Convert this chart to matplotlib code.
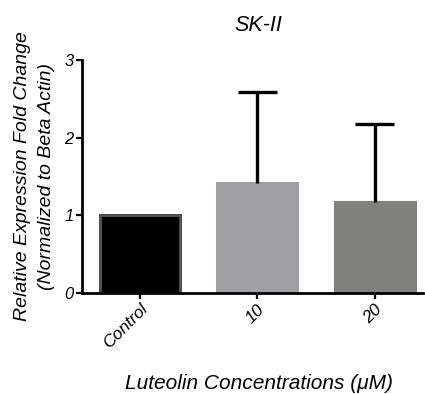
import numpy as np
import matplotlib.pyplot as plt

plt.rcParams['font.family'] = ['Liberation Sans', 'DejaVu Sans']

# data
groups = ["Control", "10", "20"]
means = [1.0, 1.42, 1.17]
err_up = [0.0, 1.17, 1.00]
colors = ["#000000", "#a0a0a3", "#80807f"]
edges = ["#505050", "#a0a0a3", "#80807f"]

fig = plt.figure(figsize=(4.25, 3.94), dpi=100)
ax = fig.add_axes([0.193, 0.256, 0.802, 0.592])

x = np.arange(len(groups))
ax.bar(x, means, width=0.68, color=colors, edgecolor=edges, linewidth=2.2, zorder=2)

# only the upper half of the error bar, no bar for the control
cap = 0.165
for xi, m, e in zip(x, means, err_up):
    if e > 0:
        ax.vlines(xi, m, m + e, color='black', linewidth=2.4, zorder=3)
        ax.hlines(m + e, xi - cap, xi + cap, color='black', linewidth=2.4, zorder=3)

ax.set_xlim(-0.49, 2.41)
ax.set_ylim(0, 3)
ax.set_yticks([0, 1, 2, 3])
ax.set_yticklabels(["0", "1", "2", "3"], fontstyle='italic', fontsize=12)
ax.set_xticks(x)
ax.set_xticklabels(groups, rotation=45, ha='right', rotation_mode='anchor',
                   fontstyle='italic', fontsize=12.5)

for s in ['top', 'right']:
    ax.spines[s].set_visible(False)
for s in ['left', 'bottom']:
    ax.spines[s].set_linewidth(2)
ax.tick_params(width=1.6, length=4, pad=2)

ax.set_title("SK-II", fontstyle='italic', fontsize=15.5, pad=20.5, x=0.517)
ax.set_ylabel("Relative Expression Fold Change\n(Normalized to Beta Actin)",
              fontstyle='italic', fontsize=14, labelpad=7, linespacing=1.55)
ax.set_xlabel("Luteolin Concentrations (\u03bcM)", fontstyle='italic',
              fontsize=15, labelpad=16, x=0.52)

fig.savefig("out.png", dpi=100)
